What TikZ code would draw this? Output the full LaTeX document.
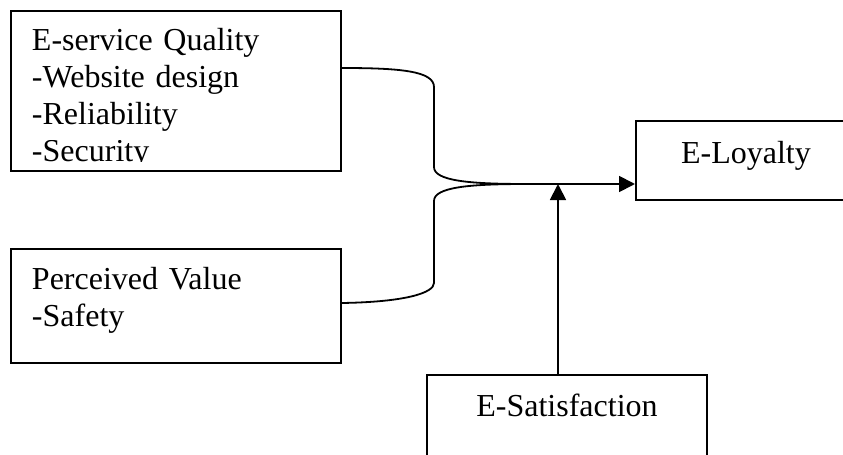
\documentclass[tikz,border=0pt]{standalone}
\usepackage{fontspec}
\setmainfont{Liberation Serif}
\usepackage{trimclip}
\usetikzlibrary{arrows.meta}

\tikzset{
  box/.style={draw, line width=1pt, inner ysep=0pt, anchor=north west},
  leftbox/.style={box, inner xsep=10.5pt, text width=144pt, align=left, text height=20pt},
  midbox/.style={box, inner xsep=0pt, align=center},
  link/.style={line width=0.9pt},
  tip/.style={-{Triangle[length=8pt,width=8pt]}}
}

\begin{document}
\begin{tikzpicture}[x=0.5pt, y=-0.5pt, font=\fontsize{16}{18.5}\selectfont]
\useasboundingbox (0,0) rectangle (843,455);

\def\xl{10}
\def\xm{434}
\def\yj{184}

\node[leftbox, text depth=60pt] (esq) at (\xl, 10) {E-service Quality\\-Website design\\-Reliability\\\clipbox{0pt {\depth} 0pt 0pt}{-Security}};
\node[leftbox, text depth=37pt] (pv) at (\xl, 248) {Perceived Value\\-Safety};
\node[midbox, text width=110pt, text height=21pt, text depth=18.5pt] (loy) at (635, 120) {E-Loyalty};
\node[midbox, text width=140pt, text height=20.5pt, text depth=30pt] (sat) at (426, 374) {E-Satisfaction};

\coordinate (join) at (527, \yj);
\coordinate (hit) at (558, \yj);

\draw[link] ([yshift=11.5pt]esq.east) .. controls (400, 68) and (\xm, 71) .. (\xm, 87) -- (\xm, 167) .. controls (\xm, 181) and (470, \yj) .. (join);
\draw[link] ([yshift=1.5pt]pv.east) .. controls (405, 302) and (\xm, 293) .. (\xm, 283) -- (\xm, 201) .. controls (\xm, 187) and (470, \yj) .. (join);
\draw[link, tip] (join) -- (join -| loy.west);
\draw[link, tip] (sat.north -| hit) -- (hit);
\end{tikzpicture}
\end{document}
